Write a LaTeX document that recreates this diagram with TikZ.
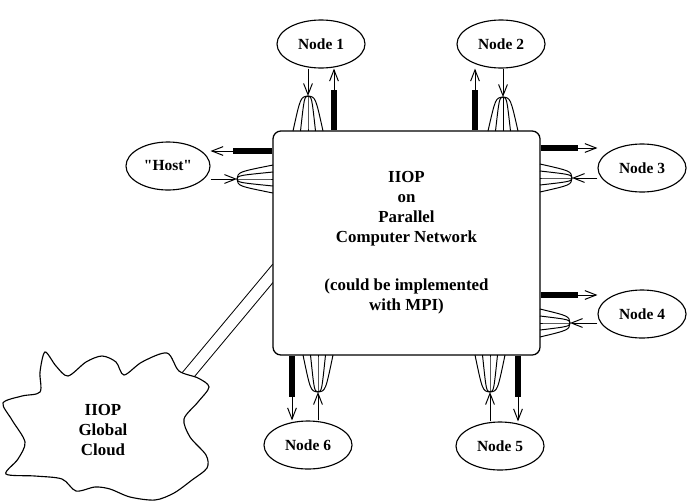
\documentclass[tikz,border=0pt]{standalone}
\usepackage{fontspec}
\setmainfont{Liberation Serif}
\usetikzlibrary{positioning,calc,arrows.meta,shapes.geometric,backgrounds}

\begin{document}
\begin{tikzpicture}[x=0.025cm,y=-0.025cm]
\tikzset{endpt/.style={draw,ellipse,line width=0.8pt,minimum width=2.2cm,minimum height=1.2cm,inner sep=0pt,font=\fontsize{11}{13}\selectfont\bfseries},
  bar/.style={line width=0.13cm}, arr/.style={line width=0.7pt,-{Straight Barb[length=0.28cm,width=0.22cm]}},
  fan/.style={line width=0.7pt}};
   \useasboundingbox (0,0) rectangle (688,501);

   \node[draw,rounded corners=0.2cm,line width=0.9pt,fill=white,minimum width=6.675cm,minimum height=5.6cm,align=center,
         font=\fontsize{12}{14.2}\selectfont\bfseries] (net) at (406.5,243)
        {IIOP\\on\\Parallel\\Computer Network\\[0.7cm](could be implemented\\with MPI)};

   \node[endpt] (n1) at (321,44) {Node 1};
   \node[endpt] (n2) at (501,44) {Node 2};
   \node[endpt,minimum width=2.1cm] (host) at (168,166) {\textquotedbl Host\textquotedbl};
   \node[endpt] (n3) at (642,168) {Node 3};
   \node[endpt] (n4) at (642,314) {Node 4};
   \node[endpt] (n5) at (500,446) {Node 5};
   \node[endpt] (n6) at (308,445) {Node 6};

   % fan apexes and bar ends
   \coordinate (a1) at (308,96);  \coordinate (b1) at (334,90);
   \coordinate (a2) at (503,97);  \coordinate (b2) at (475,90);
   \coordinate (ah) at (237,179); \coordinate (bh) at (233,151);
   \coordinate (a3) at (572,178); \coordinate (b3) at (578,148);
   \coordinate (a4) at (570,323); \coordinate (b4) at (578,295);
   \coordinate (a5) at (490,392); \coordinate (b5) at (518,397);
   \coordinate (a6) at (318,392); \coordinate (b6) at (292,397);

   % top
   \draw[bar] (b1 |- net.north) -- (b1);  \draw[arr] (b1) -- (b1 |- n1.south);
   \draw[arr] (a1 |- n1.south) -- (a1);
   \draw[bar] (b2 |- net.north) -- (b2);  \draw[arr] (b2) -- (b2 |- n2.south);
   \draw[arr] (a2 |- n2.south) -- (a2);
   \foreach \o in {-15,-7.5,0,7.5,15} {
     \draw[fan] (a1) .. controls ($(a1)+(0.5*\o,1)$) .. ($(a1)+(\o,35)$);
     \draw[fan] (a2) .. controls ($(a2)+(0.5*\o,1)$) .. ($(a2)+(\o,34)$);
   }
   % left and right
   \draw[bar] (bh -| net.west) -- (bh);  \draw[arr] (bh) -- (bh -| host.east);
   \draw[arr] (ah -| host.east) -- (ah);
   \draw[bar] (b3 -| net.east) -- (b3);  \draw[arr] (b3) -- (b3 -| n3.west);
   \draw[arr] (a3 -| n3.west) -- (a3);
   \draw[bar] (b4 -| net.east) -- (b4);  \draw[arr] (b4) -- (b4 -| n4.west);
   \draw[arr] (a4 -| n4.west) -- (a4);
   \foreach \o in {-14,-7,0,7,14} {
     \draw[fan] (ah) .. controls ($(ah)+(1,0.5*\o)$) .. ($(ah)+(36,\o)$);
     \draw[fan] (a3) .. controls ($(a3)+(-1,0.5*\o)$) .. ($(a3)+(-32,\o)$);
     \draw[fan] (a4) .. controls ($(a4)+(-1,0.5*\o)$) .. ($(a4)+(-30,\o)$);
   }
   % bottom
   \draw[bar] (b6 |- net.south) -- (b6);  \draw[arr] (b6) -- (b6 |- n6.north);
   \draw[arr] (a6 |- n6.north) -- (a6);
   \draw[bar] (b5 |- net.south) -- (b5);  \draw[arr] (b5) -- (b5 |- n5.north);
   \draw[arr] (a5 |- n5.north) -- (a5);
   \foreach \o in {-15,-7.5,0,7.5,15} {
     \draw[fan] (a6) .. controls ($(a6)+(0.5*\o,-1)$) .. ($(a6)+(\o,-37)$);
     \draw[fan] (a5) .. controls ($(a5)+(0.5*\o,-1)$) .. ($(a5)+(\o,-37)$);
   }

   % cloud
   \draw[line width=0.8pt,fill=white] plot[smooth cycle,tension=0.5] coordinates {
     (45,352) (56,366) (68,376) (86,362) (102,356) (116,362) (124,375) (142,362)
     (167,353) (179,371) (198,378) (209,387) (198,402) (184,419) (190,437) (206,455)
     (207,468) (192,480) (174,493) (155,500) (130,497) (110,489) (95,487) (76,491)
     (62,479) (35,476) (6,474) (18,459) (25,442) (12,420) (3,403) (22,396) (40,392) (40,372)};
   \node[align=center,font=\fontsize{12}{14.2}\selectfont\bfseries] (cloud) at (103,430) {IIOP\\Global\\Cloud};
   \coordinate (cl) at (183,381);

   \begin{scope}[on background layer]
   \draw[line width=0.7pt,double,double distance=0.27cm] (cl) -- ($(net.west)+(5,25)$);
   \end{scope}
 \end{tikzpicture}
\end{document}
